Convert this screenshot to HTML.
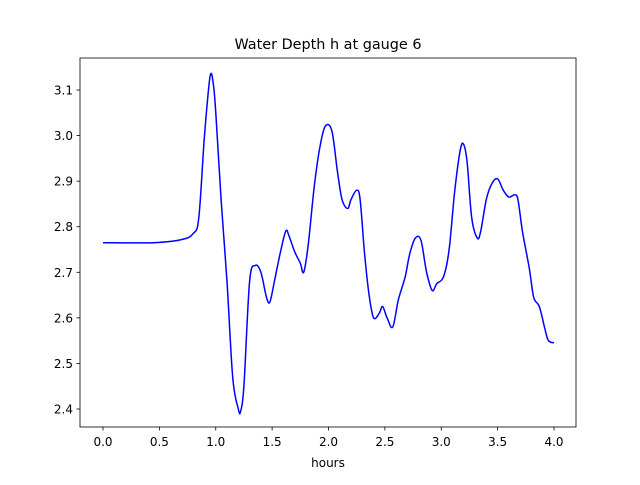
<!DOCTYPE html>
<html><head><meta charset="utf-8"><style>
body{margin:0;background:#fff;}
svg text{font-family:"DejaVu Sans","Liberation Sans",sans-serif;fill:#000;}
</style></head><body>
<svg id="chart" width="640" height="480" xmlns="http://www.w3.org/2000/svg">
<rect x="0" y="0" width="640" height="480" fill="#fff"/>
<text x="328" y="49" font-size="14.4" text-anchor="middle">Water Depth h at gauge 6</text>
<g id="ticks"></g>
<path id="series" fill="none" stroke="#0000ff" stroke-width="1.5" stroke-linejoin="round"/>
<rect x="80" y="58" width="496" height="369" fill="none" stroke="#000" stroke-width="0.8"/>
<text x="328" y="467" font-size="12" text-anchor="middle">hours</text>
</svg>
<script>
const hours=[0,0.45,0.7,0.8,0.85,0.9,0.95,0.98,1.0,1.05,1.1,1.15,1.2,1.22,1.25,1.3,1.35,1.4,1.45,1.48,1.52,1.57,1.62,1.65,1.7,1.75,1.78,1.82,1.87,1.92,1.97,2.03,2.08,2.12,2.17,2.2,2.25,2.28,2.32,2.36,2.4,2.45,2.48,2.52,2.57,2.62,2.68,2.72,2.77,2.82,2.87,2.92,2.96,3.02,3.07,3.12,3.17,3.2,3.23,3.27,3.32,3.35,3.4,3.45,3.5,3.55,3.6,3.65,3.68,3.72,3.78,3.82,3.87,3.92,3.95,4.0];
const depth=[2.765,2.765,2.772,2.785,2.82,3.0,3.13,3.11,3.05,2.85,2.68,2.47,2.40,2.395,2.45,2.68,2.715,2.70,2.645,2.635,2.68,2.74,2.79,2.78,2.745,2.72,2.70,2.76,2.88,2.97,3.02,3.01,2.92,2.86,2.84,2.86,2.88,2.86,2.74,2.65,2.60,2.61,2.625,2.60,2.58,2.64,2.69,2.74,2.775,2.77,2.70,2.66,2.675,2.69,2.75,2.88,2.97,2.98,2.94,2.82,2.775,2.79,2.86,2.895,2.905,2.88,2.865,2.87,2.86,2.79,2.71,2.645,2.625,2.575,2.55,2.545];
const xTicks=[0,0.5,1,1.5,2,2.5,3,3.5,4];
const xTickLabels=["0.0","0.5","1.0","1.5","2.0","2.5","3.0","3.5","4.0"];
const yTicks=[2.4,2.5,2.6,2.7,2.8,2.9,3.0,3.1];
const yTickLabels=["2.4","2.5","2.6","2.7","2.8","2.9","3.0","3.1"];
const xs=t=>103+t*112.75;
const ys=v=>409-(v-2.4)*455.7;
const NS="http://www.w3.org/2000/svg";
const g=document.getElementById('ticks');
xTicks.forEach((t,i)=>{
  const l=document.createElementNS(NS,'line');
  l.setAttribute('x1',xs(t));l.setAttribute('x2',xs(t));l.setAttribute('y1',427);l.setAttribute('y2',430.5);
  l.setAttribute('stroke','#000');l.setAttribute('stroke-width','0.8');
  
  
  g.appendChild(l);
  const tx=document.createElementNS(NS,'text');
  tx.setAttribute('x',xs(t));tx.setAttribute('y',446);tx.setAttribute('font-size','12');tx.setAttribute('text-anchor','middle');
  tx.textContent=xTickLabels[i];
  
  
  g.appendChild(tx);
});
yTicks.forEach((v,i)=>{
  const l=document.createElementNS(NS,'line');
  l.setAttribute('x1',76.5);l.setAttribute('x2',80);l.setAttribute('y1',ys(v));l.setAttribute('y2',ys(v));
  l.setAttribute('stroke','#000');l.setAttribute('stroke-width','0.8');
  
  
  g.appendChild(l);
  const tx=document.createElementNS(NS,'text');
  tx.setAttribute('x',73);tx.setAttribute('y',ys(v)+4.5);tx.setAttribute('font-size','12');tx.setAttribute('text-anchor','end');
  tx.textContent=yTickLabels[i];
  
  
  g.appendChild(tx);
});
const P=hours.map((t,i)=>[xs(t),ys(depth[i])]);
let d='M'+P[0][0].toFixed(1)+','+P[0][1].toFixed(1);
for(let i=0;i<P.length-1;i++){
  const p0=P[Math.max(i-1,0)],p1=P[i],p2=P[i+1],p3=P[Math.min(i+2,P.length-1)];
  const c1x=p1[0]+(p2[0]-p0[0])/6,c1y=p1[1]+(p2[1]-p0[1])/6;
  const c2x=p2[0]-(p3[0]-p1[0])/6,c2y=p2[1]-(p3[1]-p1[1])/6;
  d+=' C'+c1x.toFixed(1)+','+c1y.toFixed(1)+' '+c2x.toFixed(1)+','+c2y.toFixed(1)+' '+p2[0].toFixed(1)+','+p2[1].toFixed(1);
}
document.getElementById('series').setAttribute('d',d);
</script>
</body></html>
